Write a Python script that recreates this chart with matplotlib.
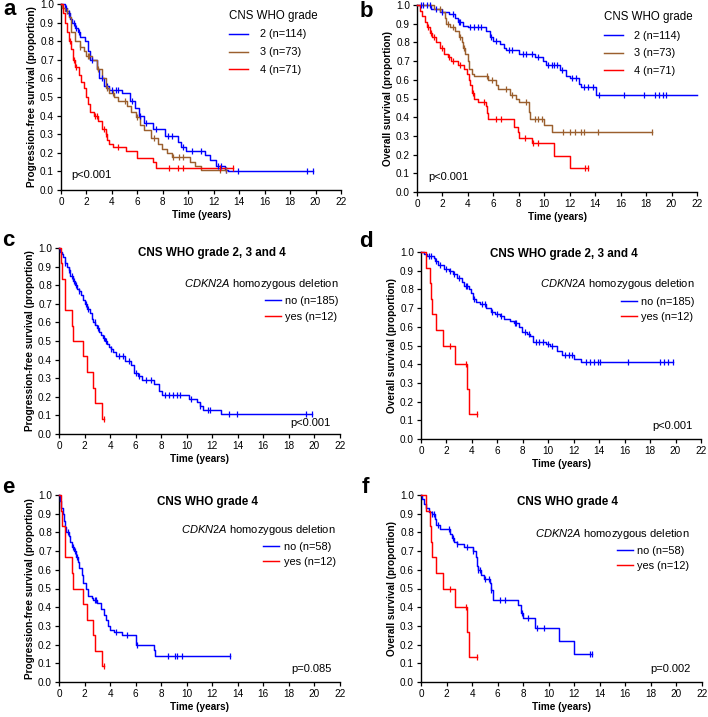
import numpy as np
import matplotlib
matplotlib.use('Agg')
import matplotlib.pyplot as plt

plt.rcParams['font.family'] = ['Liberation Sans', 'DejaVu Sans']
plt.rcParams['mathtext.fontset'] = 'custom'
plt.rcParams['mathtext.it'] = 'Liberation Sans:italic'
plt.rcParams['mathtext.rm'] = 'Liberation Sans'

BLUE = '#0000FF'
BROWN = '#9B5F2E'
RED = '#FF0000'

x_ticks = list(range(0, 23, 2))
y_ticks = [round(0.1 * i, 1) for i in range(11)]

# ---------------- Panel a: PFS by grade ----------------
a_g2_t = [0.3, 0.5, 0.7, 0.9, 1.1, 1.3, 1.5, 1.9, 2.1, 2.3, 2.8, 3.0, 3.4, 3.8, 4.8, 5.4, 5.8, 6.1, 6.5, 7.2,
          8.2, 9.2, 9.4, 9.8, 11.3, 11.7, 12.2, 12.9, 13.1]
a_g2_s = [0.98, 0.95, 0.92, 0.90, 0.87, 0.85, 0.82, 0.80, 0.75, 0.70, 0.65, 0.60, 0.56, 0.54, 0.52, 0.48, 0.44,
          0.40, 0.36, 0.33, 0.29, 0.26, 0.23, 0.21, 0.19, 0.16, 0.13, 0.11, 0.10]
a_g2_c = [0.4, 0.6, 1.0, 1.2, 1.4, 2.4, 3.2, 3.6, 4.0, 4.3, 4.5, 5.6, 6.2, 6.7, 7.5, 8.4, 8.7, 9.6, 10.3, 11.0,
          12.3, 12.6, 13.0, 13.9, 19.3, 19.8]

a_g3_t = [0.1, 0.3, 0.6, 0.8, 1.1, 1.5, 1.8, 2.0, 2.4, 2.8, 3.2, 3.5, 3.8, 4.2, 4.5, 5.2, 5.5, 5.9, 6.2, 6.5,
          7.1, 7.6, 7.9, 8.3, 8.7, 10.1, 10.5, 11.0]
a_g3_s = [0.98, 0.96, 0.93, 0.85, 0.80, 0.77, 0.75, 0.72, 0.70, 0.65, 0.60, 0.55, 0.52, 0.50, 0.48, 0.45, 0.42,
          0.39, 0.35, 0.32, 0.28, 0.25, 0.22, 0.20, 0.18, 0.15, 0.13, 0.11]
a_g3_c = [0.5, 1.5, 2.1, 2.2, 2.9, 3.6, 4.1, 5.0, 6.0, 7.3, 8.8, 9.3, 9.6, 12.5, 13.0]

a_g4_t = [0.15, 0.3, 0.5, 0.6, 0.8, 0.95, 1.1, 1.4, 1.6, 1.8, 1.95, 2.1, 2.3, 2.6, 2.9, 3.2, 3.5, 3.6, 3.8,
          4.1, 5.1, 6.0, 7.2, 7.5]
a_g4_s = [0.95, 0.90, 0.85, 0.80, 0.76, 0.70, 0.66, 0.62, 0.58, 0.55, 0.50, 0.46, 0.42, 0.40, 0.37, 0.33,
          0.30, 0.27, 0.25, 0.23, 0.21, 0.17, 0.15, 0.12]
a_g4_c = [0.7, 1.0, 1.2, 2.7, 2.8, 3.4, 3.5, 4.5, 8.5, 9.2, 9.6, 12.5, 13.5]

# ---------------- Panel b: OS by grade ----------------
b_g2_t = [1.1, 1.8, 2.5, 3.0, 3.2, 3.6, 4.0, 5.4, 5.7, 6.0, 6.5, 6.8, 7.0, 8.0, 9.3, 9.9, 10.1, 11.2, 11.7,
          12.0, 12.7, 12.9, 14.1]
b_g2_s = [0.98, 0.96, 0.95, 0.93, 0.91, 0.89, 0.88, 0.86, 0.83, 0.81, 0.79, 0.77, 0.76, 0.74, 0.72, 0.70,
          0.68, 0.65, 0.62, 0.61, 0.58, 0.56, 0.52]
b_g2_c = [0.3, 0.5, 0.8, 1.0, 1.5, 2.0, 2.8, 3.3, 3.4, 4.2, 4.5, 4.8, 5.0, 5.8, 6.2, 7.2, 7.5, 8.3, 8.6, 9.0,
          9.5, 10.3, 10.6, 10.8, 11.0, 11.4, 12.2, 12.5, 13.1, 13.4, 13.8, 14.3, 16.3, 17.8, 18.7, 19.0,
          19.3, 19.6]
b_g2_end = 22.0

b_g3_t = [1.3, 2.0, 2.2, 2.3, 2.6, 3.0, 3.3, 3.5, 3.6, 3.8, 4.0, 4.1, 4.3, 4.5, 5.6, 6.2, 6.4, 7.3, 7.8,
          8.0, 8.8, 8.9, 10.0, 10.6]
b_g3_s = [0.98, 0.96, 0.93, 0.90, 0.88, 0.86, 0.83, 0.80, 0.77, 0.74, 0.70, 0.66, 0.63, 0.62, 0.60, 0.57,
          0.55, 0.52, 0.50, 0.48, 0.43, 0.39, 0.36, 0.32]
b_g3_c = [1.8, 2.4, 2.8, 3.4, 3.7, 5.5, 5.9, 7.0, 7.5, 8.6, 9.3, 9.5, 9.8, 11.5, 12.0, 12.4, 12.9, 13.1,
          14.2, 18.5]

b_g4_t = [0.2, 0.4, 0.6, 0.8, 1.0, 1.2, 1.5, 1.8, 2.1, 2.4, 2.7, 3.2, 3.7, 3.9, 4.1, 4.2, 4.3, 4.5, 4.8,
          5.4, 5.5, 5.6, 7.6, 7.9, 8.0, 9.0, 10.8, 12.0]
b_g4_s = [0.97, 0.94, 0.91, 0.88, 0.85, 0.83, 0.80, 0.77, 0.74, 0.72, 0.70, 0.68, 0.66, 0.63, 0.60, 0.57,
          0.53, 0.50, 0.48, 0.46, 0.42, 0.39, 0.35, 0.32, 0.29, 0.26, 0.19, 0.13]
b_g4_c = [0.9, 1.1, 1.3, 2.0, 2.5, 2.8, 3.4, 4.4, 5.3, 6.2, 6.6, 8.5, 9.1, 9.5, 13.2, 13.4]

# ---------------- Panel c: PFS by CDKN2A, all grades ----------------
c_no_t = [0.1, 0.2, 0.3, 0.45, 0.6, 0.75, 0.9, 1.1, 1.25, 1.4, 1.55, 1.7, 1.85, 2.0, 2.2, 2.4, 2.55, 2.7,
          2.85, 3.0, 3.15, 3.3, 3.45, 3.6, 3.75, 3.9, 4.05, 4.2, 4.5, 5.2, 5.6, 5.9, 6.2, 6.5, 7.4, 7.8,
          8.1, 10.2, 10.8, 11.0, 11.3, 12.7]
c_no_s = [0.98, 0.97, 0.95, 0.92, 0.90, 0.88, 0.85, 0.82, 0.80, 0.78, 0.77, 0.75, 0.72, 0.70, 0.67, 0.65,
          0.62, 0.60, 0.585, 0.57, 0.55, 0.53, 0.515, 0.50, 0.485, 0.47, 0.455, 0.44, 0.42, 0.39, 0.37,
          0.33, 0.31, 0.29, 0.27, 0.23, 0.21, 0.19, 0.17, 0.15, 0.13, 0.11]
c_no_c = [0.5, 0.8, 1.0, 1.2, 1.3, 1.6, 2.1, 2.25, 2.8, 3.05, 3.5, 3.7, 4.1, 4.7, 5.0, 5.5, 6.0, 6.3, 6.8,
          7.2, 8.3, 8.6, 8.9, 9.2, 9.5, 10.3, 11.0, 11.7, 11.8, 13.3, 13.9, 19.3, 19.8]

# CDKN2A deleted group (n=12), identical in panels c/e (PFS) and d/f (OS)
pfs_yes_t = [0.15, 0.25, 0.5, 1.0, 1.1, 1.9, 2.2, 2.7, 2.8, 3.4]
pfs_yes_s = [0.917, 0.833, 0.667, 0.583, 0.50, 0.417, 0.333, 0.25, 0.167, 0.083]
pfs_yes_c = [3.5]

os_yes_t = [0.4, 0.7, 0.8, 0.9, 1.2, 1.75, 2.7, 3.6, 3.75]
os_yes_s = [0.917, 0.833, 0.75, 0.667, 0.583, 0.50, 0.40, 0.267, 0.133]
os_yes_c = [2.3, 3.5, 4.4]

# ---------------- Panel d: OS by CDKN2A, all grades ----------------
d_no_t = [0.2, 0.5, 1.0, 1.1, 1.3, 1.8, 2.2, 2.5, 2.8, 3.2, 3.4, 3.8, 3.9, 4.1, 4.3, 4.6, 5.1, 5.5, 5.8,
          6.2, 6.5, 7.0, 7.3, 7.7, 7.9, 8.3, 8.6, 8.8, 9.8, 10.1, 10.7, 11.1, 12.0, 12.6]
d_no_s = [0.99, 0.98, 0.97, 0.95, 0.93, 0.91, 0.90, 0.88, 0.86, 0.84, 0.82, 0.80, 0.78, 0.75, 0.73, 0.72,
          0.70, 0.68, 0.67, 0.66, 0.64, 0.63, 0.62, 0.60, 0.57, 0.56, 0.55, 0.52, 0.51, 0.50, 0.47, 0.45,
          0.43, 0.41]
d_no_c = [0.6, 0.8, 1.2, 1.5, 2.0, 2.3, 2.6, 3.0, 3.5, 3.6, 4.2, 4.8, 5.0, 5.6, 6.0, 6.3, 7.4, 7.5, 8.2,
          8.5, 9.0, 9.3, 9.6, 10.0, 10.3, 11.3, 11.6, 11.9, 13.0, 13.3, 13.6, 13.9, 14.1, 16.3, 18.8, 19.1,
          19.4, 19.8]

# ---------------- Panel e: PFS by CDKN2A, grade 4 ----------------
e_no_t = [0.05, 0.15, 0.3, 0.4, 0.5, 0.55, 0.8, 0.9, 1.0, 1.2, 1.3, 1.5, 1.6, 1.8, 1.9, 2.1, 2.3, 2.6, 2.7,
          3.0, 3.3, 3.5, 3.7, 3.8, 4.0, 4.3, 4.9, 6.0, 7.4, 7.5]
e_no_s = [0.97, 0.93, 0.90, 0.86, 0.83, 0.80, 0.78, 0.75, 0.72, 0.70, 0.67, 0.64, 0.61, 0.57, 0.53, 0.50,
          0.46, 0.45, 0.44, 0.42, 0.39, 0.36, 0.33, 0.30, 0.28, 0.27, 0.25, 0.20, 0.17, 0.14]
e_no_c = [0.7, 1.1, 1.25, 1.4, 2.8, 2.9, 4.5, 5.3, 6.1, 8.5, 9.1, 9.2, 9.6, 13.4]

# ---------------- Panel f: OS by CDKN2A, grade 4 ----------------
f_no_t = [0.1, 0.2, 0.4, 0.6, 0.9, 1.1, 1.2, 1.5, 2.3, 2.4, 2.6, 2.8, 3.4, 4.1, 4.3, 4.4, 4.5, 4.7, 4.9,
          5.4, 5.5, 5.6, 7.6, 7.8, 8.0, 8.9, 10.8, 12.0]
f_no_s = [0.98, 0.95, 0.93, 0.91, 0.90, 0.87, 0.84, 0.82, 0.79, 0.77, 0.75, 0.74, 0.72, 0.70, 0.67, 0.62,
          0.60, 0.57, 0.55, 0.53, 0.49, 0.44, 0.41, 0.37, 0.34, 0.29, 0.22, 0.15]
f_no_c = [0.9, 1.0, 1.3, 2.2, 2.5, 2.8, 3.6, 4.1, 4.5, 4.6, 5.0, 5.3, 5.5, 6.2, 6.6, 7.9, 8.4, 9.1, 9.6,
          13.2, 13.4]

grade_labels = ['2 (n=114)', '3 (n=73)', '4 (n=71)']
cdkn_all_labels = ['no (n=185)', 'yes (n=12)']
cdkn_g4_labels = ['no (n=58)', 'yes (n=12)']

# ---------------- figure ----------------
W, H = 708, 717
fig = plt.figure(figsize=(W / 100, H / 100), dpi=100)

TICK_FS = 7.2
LAB_FS = 7.2
LEG_FS = 7.9
TITLE_FS = 8.4


def add_ax(l, t, r, b):
    return fig.add_axes([l / W, 1 - b / H, (r - l) / W, (b - t) / H])


def km(ax, t, s, c, color, label, end=None):
    t = np.asarray(t, float)
    s = np.asarray(s, float)
    c = np.asarray(c, float)
    if end is None:
        end = max(c.max() if c.size else 0, t.max())
    xs = np.concatenate([[0.0], t, [end]])
    ys = np.concatenate([[1.0], s, [s[-1]]])
    line, = ax.step(xs, ys, where='post', color=color, lw=1.05, clip_on=False, label=label, zorder=3)
    sv = np.concatenate([[1.0], s])[np.searchsorted(t, c, side='right')]
    ax.plot(c, sv, ls='none', marker='|', ms=5, mew=0.9, color=color, clip_on=False, zorder=4)
    return line


def setup(ax, ylabel):
    ax.set_xlim(0, 22)
    ax.set_ylim(0, 1)
    ax.set_xticks(x_ticks)
    ax.set_yticks(y_ticks)
    ax.set_yticklabels([f'{v:.1f}' for v in y_ticks])
    for sp in ['top', 'right']:
        ax.spines[sp].set_visible(False)
    for sp in ['left', 'bottom']:
        ax.spines[sp].set_linewidth(1.0)
    ax.tick_params(direction='out', length=3, width=0.9, labelsize=TICK_FS, pad=2)
    ax.set_xlabel('Time (years)', fontweight='bold', fontsize=LAB_FS, labelpad=2)
    ax.set_ylabel(ylabel, fontweight='bold', fontsize=LAB_FS, labelpad=2.5)


PFS = 'Progression-free survival (proportion)'
OS = 'Overall survival (proportion)'
CDKN_TITLE = r'$\it{CDKN2A}$ homozygous deletion'

# Panel a
ax = add_ax(61, 4, 341, 190)
setup(ax, PFS)
h = [km(ax, a_g2_t, a_g2_s, a_g2_c, BLUE, grade_labels[0]),
     km(ax, a_g3_t, a_g3_s, a_g3_c, BROWN, grade_labels[1]),
     km(ax, a_g4_t, a_g4_s, a_g4_c, RED, grade_labels[2])]
ax.legend(handles=h, title='CNS WHO grade', loc='upper left', bbox_to_anchor=(0.60, 0.97),
          frameon=False, fontsize=LEG_FS, title_fontsize=8.3, alignment='left', borderpad=0, borderaxespad=0,
          handlelength=1.7, handletextpad=1.1, labelspacing=0.72)
ax.text(0.036, 0.08, 'p<0.001', transform=ax.transAxes, fontsize=8.0, va='center', ha='left')

# Panel b
ax = add_ax(417, 5, 697, 192)
setup(ax, OS)
h = [km(ax, b_g2_t, b_g2_s, b_g2_c, BLUE, grade_labels[0], end=b_g2_end),
     km(ax, b_g3_t, b_g3_s, b_g3_c, BROWN, grade_labels[1]),
     km(ax, b_g4_t, b_g4_s, b_g4_c, RED, grade_labels[2])]
ax.legend(handles=h, title='CNS WHO grade', loc='upper left', bbox_to_anchor=(0.668, 0.97),
          frameon=False, fontsize=LEG_FS, title_fontsize=8.3, alignment='left', borderpad=0, borderaxespad=0,
          handlelength=1.7, handletextpad=1.0, labelspacing=0.72)
ax.text(0.04, 0.082, 'p<0.001', transform=ax.transAxes, fontsize=8.0, va='center', ha='left')

# Panel c
ax = add_ax(59, 248, 340, 434)
setup(ax, PFS)
h = [km(ax, c_no_t, c_no_s, c_no_c, BLUE, cdkn_all_labels[0]),
     km(ax, pfs_yes_t, pfs_yes_s, pfs_yes_c, RED, cdkn_all_labels[1])]
ax.legend(handles=h, title=CDKN_TITLE, loc='upper right', bbox_to_anchor=(0.995, 0.845),
          frameon=False, fontsize=LEG_FS, title_fontsize=8.0, alignment='right', borderpad=0, borderaxespad=0,
          handlelength=1.45, handletextpad=0.4, labelspacing=0.5)
ax.text(0.545, 0.975, 'CNS WHO grade 2, 3 and 4', transform=ax.transAxes, fontsize=TITLE_FS,
        fontweight='bold', ha='center', va='center')
ax.text(0.968, 0.058, 'p<0.001', transform=ax.transAxes, fontsize=8.0, va='center', ha='right')

# Panel d
ax = add_ax(421, 252, 701, 439)
setup(ax, OS)
h = [km(ax, d_no_t, d_no_s, d_no_c, BLUE, cdkn_all_labels[0]),
     km(ax, os_yes_t, os_yes_s, os_yes_c, RED, cdkn_all_labels[1])]
ax.legend(handles=h, title=CDKN_TITLE, loc='upper right', bbox_to_anchor=(0.978, 0.865),
          frameon=False, fontsize=LEG_FS, title_fontsize=8.0, alignment='right', borderpad=0, borderaxespad=0,
          handlelength=1.45, handletextpad=0.4, labelspacing=0.5)
ax.text(0.51, 0.99, 'CNS WHO grade 2, 3 and 4', transform=ax.transAxes, fontsize=TITLE_FS,
        fontweight='bold', ha='center', va='center')
ax.text(0.968, 0.071, 'p<0.001', transform=ax.transAxes, fontsize=8.0, va='center', ha='right')

# Panel e
ax = add_ax(59, 495, 340, 682)
setup(ax, PFS)
h = [km(ax, e_no_t, e_no_s, e_no_c, BLUE, cdkn_g4_labels[0]),
     km(ax, pfs_yes_t, pfs_yes_s, pfs_yes_c, RED, cdkn_g4_labels[1])]
ax.legend(handles=h, title=CDKN_TITLE, loc='upper right', bbox_to_anchor=(0.985, 0.85),
          frameon=False, fontsize=LEG_FS, title_fontsize=8.0, alignment='right', borderpad=0, borderaxespad=0,
          handlelength=1.45, handletextpad=0.4, labelspacing=0.45)
ax.text(0.527, 0.96, 'CNS WHO grade 4', transform=ax.transAxes, fontsize=TITLE_FS,
        fontweight='bold', ha='center', va='center')
ax.text(0.97, 0.068, 'p=0.085', transform=ax.transAxes, fontsize=8.0, va='center', ha='right')

# Panel f
ax = add_ax(421, 495, 702, 682)
setup(ax, OS)
h = [km(ax, f_no_t, f_no_s, f_no_c, BLUE, cdkn_g4_labels[0]),
     km(ax, os_yes_t, os_yes_s, os_yes_c, RED, cdkn_g4_labels[1])]
ax.legend(handles=h, title=CDKN_TITLE, loc='upper right', bbox_to_anchor=(0.955, 0.83),
          frameon=False, fontsize=LEG_FS, title_fontsize=8.0, alignment='right', borderpad=0, borderaxespad=0,
          handlelength=1.45, handletextpad=0.4, labelspacing=0.45)
ax.text(0.523, 0.96, 'CNS WHO grade 4', transform=ax.transAxes, fontsize=TITLE_FS,
        fontweight='bold', ha='center', va='center')
ax.text(0.96, 0.068, 'p=0.002', transform=ax.transAxes, fontsize=8.0, va='center', ha='right')

# Panel letters
for letter, (px, py) in zip('abcdef', [(3, 15), (360, 17), (2, 246), (359, 247), (2, 493), (362, 493)]):
    fig.text(px / W, 1 - py / H, letter, fontsize=16, fontweight='bold', ha='left', va='baseline')

fig.savefig('out.png', dpi=100)
